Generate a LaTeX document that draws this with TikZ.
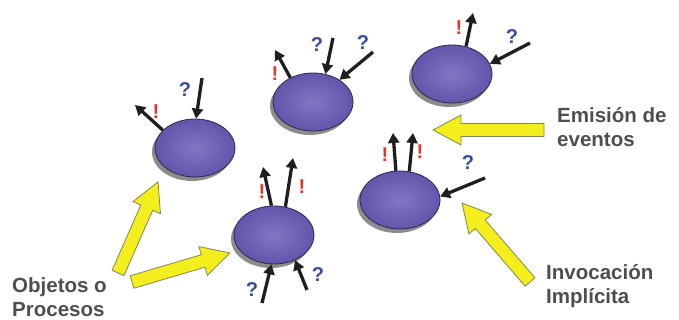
\documentclass[tikz,border=0pt]{standalone}
\usepackage{fontspec}
\newfontfamily\labelfont{Liberation Sans}
\usetikzlibrary{positioning,arrows.meta,calc,shapes.geometric,shadows}
\definecolor{blobin}{HTML}{8275C6}
\definecolor{blobout}{HTML}{6454AA}
\definecolor{blobline}{HTML}{2C2850}
\definecolor{arrowyellow}{HTML}{F4EE1C}
\definecolor{arrowedge}{HTML}{85845A}
\definecolor{qblue}{HTML}{3A4C9E}
\definecolor{ered}{HTML}{E5352B}
\definecolor{labelgray}{HTML}{4E4E4E}

\begin{document}
\begin{tikzpicture}[x=1pt,y=-1pt,>={Triangle[length=10pt,width=11pt]},
    blob/.style={ellipse,draw=blobline,line width=0.8pt,inner color=blobin,outer color=blobout,
      minimum width=80pt,minimum height=58pt,
      drop shadow={shadow xshift=-3pt,shadow yshift=-4pt,fill=black!45,opacity=1}},
    msg/.style={->,line width=3.3pt,color=black!88},
    ask/.style={font=\labelfont\bfseries\fontsize{20}{20}\selectfont,text=qblue,inner sep=0pt},
    emit/.style={font=\labelfont\bfseries\fontsize{20}{20}\selectfont,text=ered,inner sep=0pt},
    caption/.style={font=\labelfont\bfseries\fontsize{20.5}{24}\selectfont,text=labelgray,align=left,inner sep=0pt},
    bigarrow/.style={fill=arrowyellow,draw=arrowedge,line width=0.8pt,line join=miter}]
  \useasboundingbox (0,0) rectangle (679,320);

  % objetos
  \node[blob] (obj1) at (195,148) {};
  \node[blob] (obj2) at (313,102) {};
  \node[blob] (obj3) at (452,74) {};
  \node[blob] (obj4) at (400,200) {};
  \node[blob] (obj5) at (274,235) {};

  % eventos emitidos
  \foreach \o/\a/\x/\y [count=\i] in {obj1/151/135/105,obj2/133/275/50,obj3/63/473/13,
      obj4/98/393/133,obj4/72/413/133,obj5/95/263/167,obj5/68/293/158}{
    \coordinate (out\i) at (\x,\y);
    \draw[msg] (\o.\a) -- (out\i);
  }
  % invocaciones
  \foreach \o/\a/\x/\y [count=\i] in {obj1/88/202/78,obj2/66/333/38,obj2/40/373/52,
      obj3/15/530/43,obj4/5/485/178,obj5/265/262/303,obj5/310/307/290}{
    \coordinate (in\i) at (\x,\y);
    \draw[msg] (in\i) -- (\o.\a);
  }

  \foreach \x/\y [count=\i] in {185/90,317/45,363/43,512/37,468/163,252/290,318/275}
    \node[ask] (q\i) at (\x,\y) {?};
  \foreach \x/\y [count=\i] in {156/112,275/74,459/28,385/155,420/152,262/192,302/187}
    \node[emit] (e\i) at (\x,\y) {!};

  % textos
  \node[caption,anchor=north west] (objetos) at (12,277) {Objetos o\\Procesos};
  \node[caption,anchor=north west] (emision) at (557,107) {Emisión de\\eventos};
  \node[caption,anchor=north west] (invocacion) at (546,264) {Invocación\\Implícita};

  \coordinate (objA) at (118,273);
  \coordinate (tipA) at (158,182);
  \coordinate (objB) at (132,282);
  \coordinate (tipB) at (230,253);
  \coordinate (emA) at (544,130);
  \coordinate (tipC) at (433,130);
  \coordinate (invA) at (530,282);
  \coordinate (tipD) at (462,203);
  \foreach \s/\t in {objA/tipA,objB/tipB,emA/tipC,invA/tipD}{
    \coordinate (h) at ($(\t)!28pt!(\s)$);
    \draw[bigarrow] ($(\s)!6.5pt!90:(\t)$) -- ($(h)!6.5pt!90:(\t)$) -- ($(h)!15pt!90:(\t)$)
      -- (\t) -- ($(h)!15pt!-90:(\t)$) -- ($(h)!6.5pt!-90:(\t)$) -- ($(\s)!6.5pt!-90:(\t)$) -- cycle;
  }
\end{tikzpicture}
\end{document}
